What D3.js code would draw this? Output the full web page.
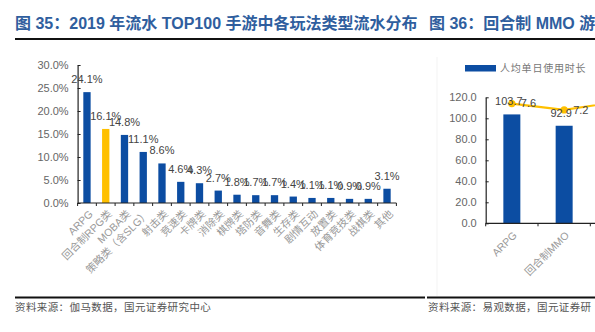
<!DOCTYPE html>
<html><head><meta charset="utf-8">
<script src="https://cdn.jsdelivr.net/npm/d3@7"></script>
<style>
html,body{margin:0;padding:0;background:#fff;}
svg{display:block;}
</style></head>
<body>
<svg id="c" width="595" height="332"></svg>
<script>
// ---- data: left chart ----
const categories1 = ["ARPG","回合制RPG类","MOBA类","策略类（含SLG）","射击类","竞速类","卡牌类","消除类","棋牌类","塔防类","音舞类","生存类","剧情互动","放置类","体育竞技类","战棋类","其他"];
const values1 = [24.1,16.1,14.8,11.1,8.6,4.6,4.3,2.7,1.8,1.7,1.7,1.4,1.1,1.1,0.9,0.9,3.1];
const highlight1 = "回合制RPG类";
const yTicks1 = [0,5,10,15,20,25,30];

// ---- data: right chart ----
const categories2 = ["ARPG","回合制MMO",""];
const barValues2 = [103.7, 92.9, null];
const lineValues2 = [7.6, 7.2, 7.7];
const yTicks2 = [0,20,40,60,80,100,120];
const barSeriesName = "人均单日使用时长";

const titles = ["图 35：2019 年流水 TOP100 手游中各玩法类型流水分布", "图 36：回合制 MMO 游"];
const sources = ["资料来源：伽马数据，国元证券研究中心", "资料来源：易观数据，国元证券研"];

const BLUE = "#0C4DA2", YELLOW = "#FFC000", GRAY = "#666666";
const LATIN = "'Liberation Sans', Arial, 'Noto Sans CJK SC', sans-serif";
const CJK = "'Noto Sans CJK SC', 'Liberation Sans', sans-serif";

const svg = d3.select("#c");
svg.append("rect").attr("width",595).attr("height",332).attr("fill","#fff");

// titles
svg.append("text").attr("x",15).attr("y",29).text(titles[0])
  .attr("font-family",LATIN).attr("font-weight","bold").attr("font-size",16).attr("fill","#2F5E9E");
svg.append("text").attr("x",429).attr("y",29).text(titles[1])
  .attr("font-family",LATIN).attr("font-weight","bold").attr("font-size",16).attr("fill","#2F5E9E");
// rules
svg.append("line").attr("x1",15).attr("x2",595).attr("y1",39).attr("y2",39).attr("stroke","#111").attr("stroke-width",2);
svg.append("line").attr("x1",15).attr("x2",425).attr("y1",297.5).attr("y2",297.5).attr("stroke","#111").attr("stroke-width",2);
svg.append("line").attr("x1",427).attr("x2",595).attr("y1",297.5).attr("y2",297.5).attr("stroke","#111").attr("stroke-width",2);
// sources
svg.append("text").attr("x",15).attr("y",311).text(sources[0])
  .attr("font-family",CJK).attr("font-size",10.5).attr("letter-spacing",0.4).attr("fill","#555");
svg.append("text").attr("x",428).attr("y",311).text(sources[1])
  .attr("font-family",CJK).attr("font-size",10.5).attr("letter-spacing",0.4).attr("fill","#555");

// ---------- left chart ----------
const x1 = d3.scaleBand().domain(categories1).range([77.6, 396.4]).paddingInner(0.61).paddingOuter(0.305);
const y1 = d3.scaleLinear().domain([0,30]).range([203, 65]);
const g1 = svg.append("g");

const yAx1 = g1.append("g").attr("transform","translate(77.6,0)")
  .call(d3.axisLeft(y1).tickValues(yTicks1).tickFormat(d=>d.toFixed(1)+"%").tickSizeInner(-3).tickSizeOuter(0).tickPadding(9));
yAx1.select(".domain").attr("stroke","#222").attr("stroke-width",1.2);
yAx1.selectAll(".tick line").attr("stroke","#222");
yAx1.selectAll("text").attr("font-family",LATIN).attr("font-size",11).attr("fill",GRAY);

g1.selectAll("rect.b").data(values1).join("rect").attr("class","b")
  .attr("x",(d,i)=>x1(categories1[i])).attr("width",x1.bandwidth())
  .attr("y",d=>y1(d)).attr("height",d=>y1(0)-y1(d))
  .attr("fill",(d,i)=>categories1[i]===highlight1?YELLOW:BLUE);

g1.selectAll("text.v").data(values1).join("text").attr("class","v")
  .attr("x",(d,i)=>x1(categories1[i])+x1.bandwidth()/2).attr("y",d=>y1(d)-9)
  .attr("text-anchor","middle").attr("font-family",LATIN).attr("font-size",11).attr("fill","#444")
  .text(d=>d.toFixed(1)+"%");

// x axis with ticks at band boundaries
const xAx1 = g1.append("g").attr("transform","translate(0,203)");
xAx1.append("line").attr("x1",77.6).attr("x2",396.4).attr("stroke","#222").attr("stroke-width",1.2);
const step1 = x1.step();
xAx1.selectAll("line.t").data(d3.range(categories1.length+1)).join("line").attr("class","t")
  .attr("x1",i=>77.6+i*step1).attr("x2",i=>77.6+i*step1).attr("y1",0).attr("y2",3).attr("stroke","#222");
xAx1.selectAll("text").data(categories1).join("text")
  .attr("transform",d=>`translate(${x1(d)+x1.bandwidth()/2+4},9) rotate(-45)`)
  .attr("text-anchor","end").attr("dy","0.35em")
  .attr("font-family",LATIN).attr("font-size",10.5).attr("fill","#999").text(d=>d);

// ---------- right chart ----------
svg.append("line").attr("x1",437).attr("x2",437).attr("y1",57).attr("y2",296).attr("stroke","#f3f3f3");
const x2 = d3.scaleBand().domain(categories2.map((d,i)=>i)).range([485.7, 642.6]).paddingInner(0.675).paddingOuter(0.3375);
const y2 = d3.scaleLinear().domain([0,120]).range([223.3, 97.3]);
const y2b = d3.scaleLinear().domain([0,8]).range([223.3, 97.3]);
const g2 = svg.append("g");

const yAx2 = g2.append("g").attr("transform","translate(485.7,0)")
  .call(d3.axisLeft(y2).tickValues(yTicks2).tickFormat(d=>d.toFixed(1)).tickSizeInner(-3).tickSizeOuter(0).tickPadding(9));
yAx2.select(".domain").attr("stroke","#222").attr("stroke-width",1.2);
yAx2.selectAll(".tick line").attr("stroke","#222");
yAx2.selectAll("text").attr("font-family",LATIN).attr("font-size",11).attr("fill",GRAY);

const bars2 = barValues2.map((v,i)=>({i,v})).filter(d=>d.v!=null);
g2.selectAll("rect.b").data(bars2).join("rect").attr("class","b")
  .attr("x",d=>x2(d.i)).attr("width",x2.bandwidth())
  .attr("y",d=>y2(d.v)).attr("height",d=>y2(0)-y2(d.v)).attr("fill",BLUE);

const xAx2 = g2.append("g").attr("transform","translate(0,223.3)");
xAx2.append("line").attr("x1",485.7).attr("x2",642.6).attr("stroke","#222").attr("stroke-width",1.2);
const step2 = x2.step();
xAx2.selectAll("line.t").data(d3.range(categories2.length+1)).join("line").attr("class","t")
  .attr("x1",i=>485.7+i*step2).attr("x2",i=>485.7+i*step2).attr("y1",0).attr("y2",3).attr("stroke","#222");
xAx2.selectAll("text").data(categories2).join("text")
  .attr("transform",(d,i)=>`translate(${x2(i)+x2.bandwidth()/2+3},10) rotate(-45)`)
  .attr("text-anchor","end").attr("dy","0.35em")
  .attr("font-family",LATIN).attr("font-size",10.5).attr("fill","#999").text(d=>d);

const line2 = d3.line().x((d,i)=>x2(i)+x2.bandwidth()/2).y(d=>y2b(d));
g2.append("path").datum(lineValues2).attr("d",line2).attr("fill","none").attr("stroke",YELLOW).attr("stroke-width",2.2);
g2.selectAll("circle").data(lineValues2).join("circle")
  .attr("cx",(d,i)=>x2(i)+x2.bandwidth()/2).attr("cy",d=>y2b(d)).attr("r",3.6).attr("fill",YELLOW);

g2.selectAll("text.v").data(bars2).join("text").attr("class","v")
  .attr("x",d=>x2(d.i)+x2.bandwidth()/2-3).attr("y",d=>y2(d.v)-9)
  .attr("text-anchor","middle").attr("font-family",LATIN).attr("font-size",11).attr("fill","#444")
  .text(d=>d.v.toFixed(1));
g2.selectAll("text.l").data(lineValues2.slice(0,2)).join("text").attr("class","l")
  .attr("x",(d,i)=>x2(i)+x2.bandwidth()/2+9).attr("y",d=>y2b(d)).attr("dy","0.35em")
  .attr("font-family",LATIN).attr("font-size",11).attr("fill","#444")
  .text(d=>d.toFixed(1));

// legend
const lg = svg.append("g");
lg.append("rect").attr("x",465).attr("y",65).attr("width",31).attr("height",6.5).attr("fill",BLUE);
lg.append("text").attr("x",500).attr("y",68.5).attr("dy","0.35em").text(barSeriesName)
  .attr("font-family",CJK).attr("font-size",10).attr("letter-spacing",0.8).attr("fill","#777");
</script>
</body></html>
